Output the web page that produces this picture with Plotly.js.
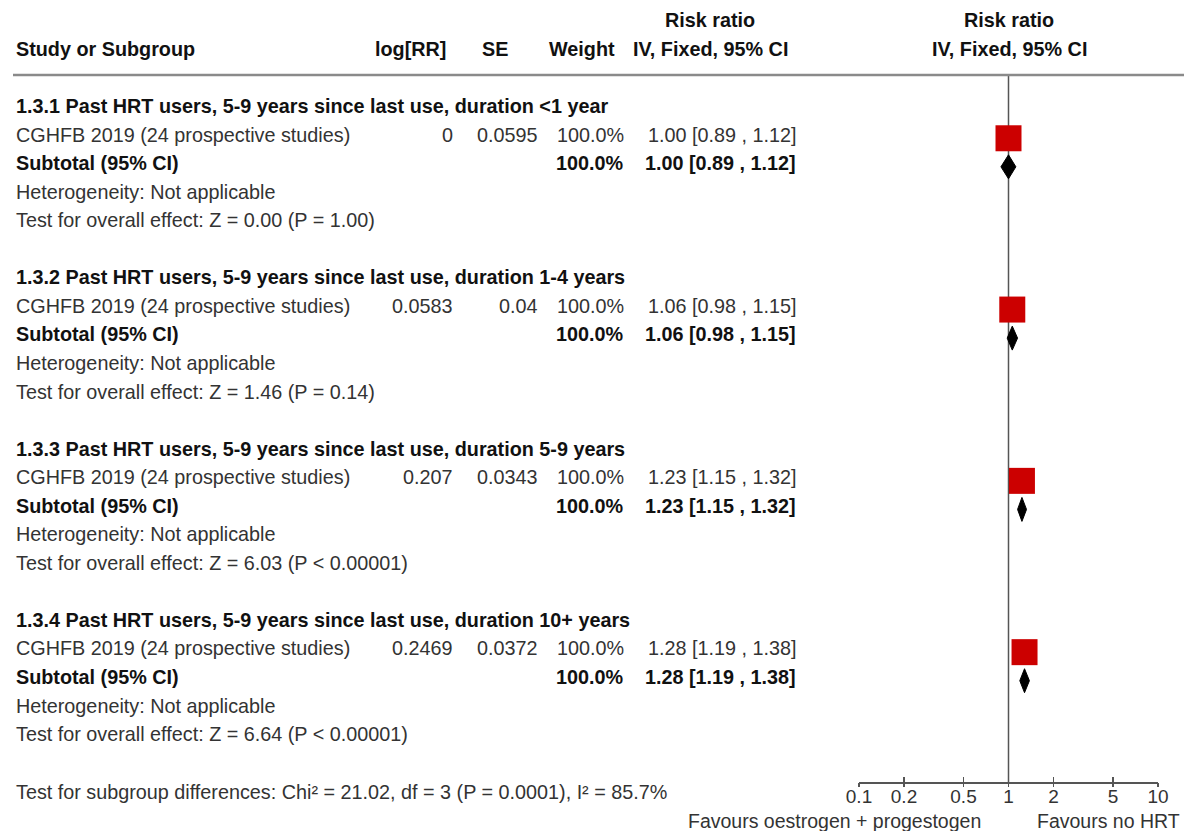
<!DOCTYPE html>
<html>
<head>
<meta charset="utf-8">
<script src="https://cdn.plot.ly/plotly-3.0.1.min.js"></script>
<style>html,body{margin:0;padding:0;background:#fff;}#chart{width:1184px;height:831px;}</style>
</head>
<body>
<div id="chart"></div>
<script>
// ---- data ----
var subgroupTitles = [
  "1.3.1 Past HRT users, 5-9 years since last use, duration <1 year",
  "1.3.2 Past HRT users, 5-9 years since last use, duration 1-4 years",
  "1.3.3 Past HRT users, 5-9 years since last use, duration 5-9 years",
  "1.3.4 Past HRT users, 5-9 years since last use, duration 10+ years"
];
var studyNames = ["CGHFB 2019 (24 prospective studies)", "CGHFB 2019 (24 prospective studies)",
                  "CGHFB 2019 (24 prospective studies)", "CGHFB 2019 (24 prospective studies)"];
var logRR = ["0", "0.0583", "0.207", "0.2469"];
var seVals = ["0.0595", "0.04", "0.0343", "0.0372"];
var weights = ["100.0%", "100.0%", "100.0%", "100.0%"];
var rr = [1.00, 1.06, 1.23, 1.28];
var ciLow = [0.89, 0.98, 1.15, 1.19];
var ciHigh = [1.12, 1.15, 1.32, 1.38];
var subRR = [1.00, 1.06, 1.23, 1.28];
var subLow = [0.89, 0.98, 1.15, 1.19];
var subHigh = [1.12, 1.15, 1.32, 1.38];
var heterogeneity = ["Not applicable", "Not applicable", "Not applicable", "Not applicable"];
var overallTests = ["Z = 0.00 (P = 1.00)", "Z = 1.46 (P = 0.14)", "Z = 6.03 (P < 0.00001)", "Z = 6.64 (P < 0.00001)"];
var subgroupDiff = "Test for subgroup differences: Chi\u00b2 = 21.02, df = 3 (P = 0.0001), I\u00b2 = 85.7%";
var tickVals = [0.1, 0.2, 0.5, 1, 2, 5, 10];
var tickText = ["0.1", "0.2", "0.5", "1", "2", "5", "10"];
var favLeft = "Favours oestrogen + progestogen";
var favRight = "Favours no HRT";

// ---- layout helpers ----
var W = 1184, H = 831;
var FONT = "Liberation Sans, Arial, Helvetica, sans-serif";
var FS = 19.8;
var cNorm = "#333333", cBold = "#111111";
function px(x){ return x / W; }
function py(y){ return (H - y) / H; }
function fmt(v){ return v.toFixed(2); }
function ciStr(a,l,h){ return fmt(a) + " [" + fmt(l) + " , " + fmt(h) + "]"; }

var ann = [];
function txt(s, x, k, anchor, bold, size, color, paperY){
  var dx = anchor === "left" ? -2 : (anchor === "right" ? 2 : 0);
  ann.push({text: bold ? "<b>" + s + "</b>" : s, xref: "paper", yref: paperY ? "paper" : "y",
    x: px(x + dx), y: paperY ? py(k) : k,
    xanchor: anchor, yanchor: "middle", showarrow: false,
    font: {family: FONT, size: size || FS, color: color || (bold ? cBold : cNorm)}});
}

// headers
txt("Study or Subgroup", 16, -2, "left", true);
txt("log[RR]", 446, -2, "right", true);
txt("SE", 508, -2, "right", true);
txt("Weight", 615, -2, "right", true);
txt("Risk ratio", 710, -3, "center", true);
txt("IV, Fixed, 95% CI", 710, -2, "center", true);
txt("Risk ratio", 1009, -3, "center", true);
txt("IV, Fixed, 95% CI", 1009, -2, "center", true);

var studyK = [], subK = [];
for (var s = 0; s < 4; s++){
  var k0 = s * 6;
  studyK.push(k0 + 1); subK.push(k0 + 2);
  txt(subgroupTitles[s], 16, k0, "left", true);
  txt(studyNames[s], 16, k0 + 1, "left", false);
  txt(logRR[s], 453, k0 + 1, "right", false);
  txt(seVals[s], 538, k0 + 1, "right", false);
  txt(weights[s], 624, k0 + 1, "right", false);
  txt(ciStr(rr[s], ciLow[s], ciHigh[s]), 796, k0 + 1, "right", false);
  txt("Subtotal (95% CI)", 16, k0 + 2, "left", true);
  txt(weights[s], 624, k0 + 2, "right", true);
  txt(ciStr(subRR[s], subLow[s], subHigh[s]), 796, k0 + 2, "right", true);
  txt("Heterogeneity: " + heterogeneity[s], 16, k0 + 3, "left", false);
  txt("Test for overall effect: " + overallTests[s], 16, k0 + 4, "left", false);
}
txt(subgroupDiff, 16, 792, "left", false, null, null, true);
txt(favLeft, 981, 820.5, "right", false, 19.5, null, true);
txt(favRight, 1037, 820.5, "left", false, 19.5, null, true);

// ---- traces ----
var OFF = 0.13;
var traces = [];
traces.push({x: [1, 1], y: [-1.09, 23.68], mode: "lines", line: {color: "#555", width: 1.5},
  xaxis: "x", yaxis: "y", hoverinfo: "skip", showlegend: false});
traces.push({x: rr, y: studyK.map(function(k){return k + OFF;}), mode: "markers",
  marker: {symbol: "square", size: 26, color: "#cc0000", line: {width: 0}},
  error_x: {type: "data", symmetric: false,
    array: rr.map(function(v,i){return ciHigh[i]-v;}),
    arrayminus: rr.map(function(v,i){return v-ciLow[i];}),
    color: "#000", thickness: 1, width: 0},
  xaxis: "x", yaxis: "y", showlegend: false});
var dx = [], dy = [];
for (var i = 0; i < 4; i++){
  var c = subK[i] + OFF;
  dx.push(subLow[i], subRR[i], subHigh[i], subRR[i], subLow[i], null);
  dy.push(c, c - 0.42, c, c + 0.42, c, null);
}
traces.push({x: dx, y: dy, mode: "lines", fill: "toself", fillcolor: "#000",
  line: {color: "#000", width: 1}, xaxis: "x", yaxis: "y", showlegend: false, hoverinfo: "skip"});

var layout = {
  width: W, height: H, margin: {l: 0, r: 0, t: 0, b: 0, pad: 0},
  paper_bgcolor: "#fff", plot_bgcolor: "rgba(0,0,0,0)", showlegend: false,
  xaxis: {type: "log", range: [-1, 1], domain: [px(859), px(1158)], anchor: "y",
    showline: true, linecolor: "#555", linewidth: 1.5, ticks: "inside", ticklen: 5,
    tickwidth: 1.5, tickcolor: "#555", tickvals: tickVals, ticktext: tickText,
    ticklabelstandoff: -3,
    tickfont: {family: FONT, size: 19, color: cNorm}, showgrid: false, zeroline: false,
    fixedrange: true},
  xaxis2: {type: "log", range: [-1, 1], overlaying: "x", anchor: "y", side: "bottom",
    showline: false, ticks: "outside", ticklen: 4, tickwidth: 1.5, tickcolor: "#555",
    tickvals: tickVals, showticklabels: false, showgrid: false, zeroline: false},
  yaxis: {domain: [49 / H, 1], range: [23.678, -3.713], visible: false, showgrid: false,
    zeroline: false, fixedrange: true},
  shapes: [{type: "line", xref: "paper", yref: "y", x0: px(13), x1: 1, y0: -1.086, y1: -1.086,
    line: {color: "#8a8a8a", width: 2.5}}],
  annotations: ann
};
// invisible point so that the second (tick-only) axis is drawn
traces.push({x: [1], y: [-10], xaxis: "x2", yaxis: "y", mode: "markers",
  marker: {opacity: 0}, hoverinfo: "skip", showlegend: false});

Plotly.newPlot("chart", traces, layout, {displayModeBar: false, staticPlot: true});
</script>
</body>
</html>
